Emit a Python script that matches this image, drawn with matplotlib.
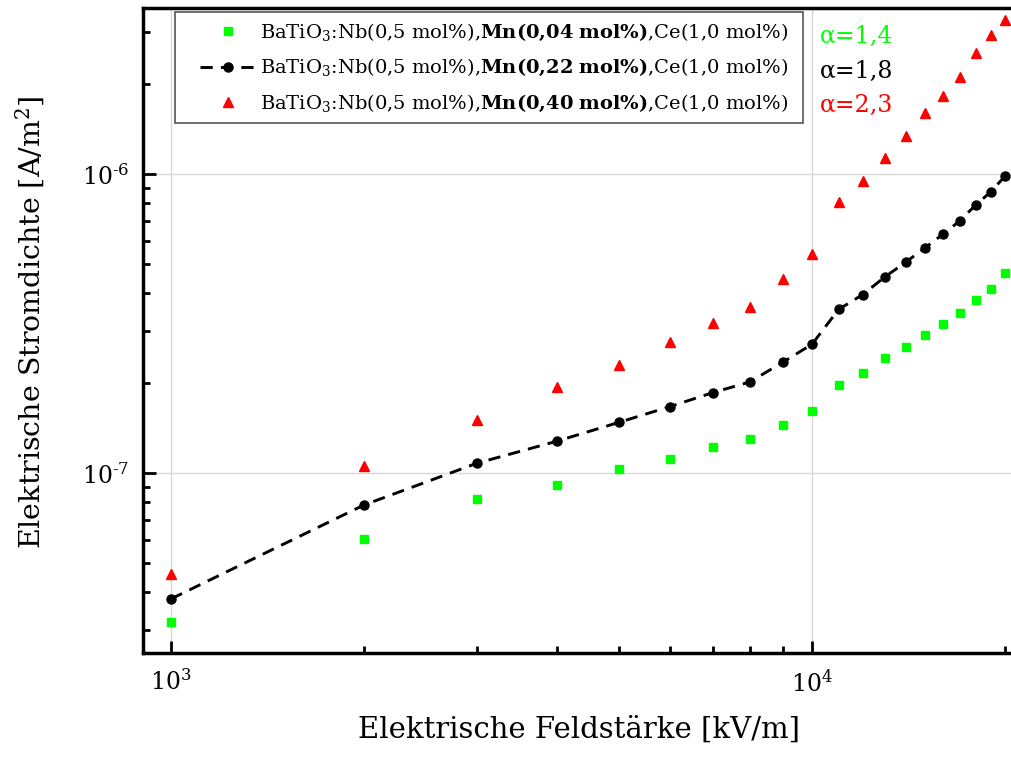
import numpy as np
import matplotlib
matplotlib.use("Agg")
import matplotlib.pyplot as plt
from matplotlib.patches import Rectangle
from matplotlib.ticker import LogLocator, FuncFormatter, NullFormatter

plt.rcParams["font.family"] = ["DejaVu Serif"]
plt.rcParams["mathtext.fontset"] = "dejavuserif"

# Electric field strength [kV/m]
field = [1000, 2000, 3000, 4000, 5000, 6000, 7000, 8000, 9000, 10000,
         11000, 12000, 13000, 14000, 15000, 16000, 17000, 18000, 19000, 20000]

# Current density [A/m^2] for the three Mn contents
j_mn004 = [3.18e-8, 6.03e-8, 8.20e-8, 9.14e-8, 1.03e-7, 1.12e-7, 1.22e-7, 1.30e-7, 1.45e-7, 1.61e-7,
           1.97e-7, 2.17e-7, 2.43e-7, 2.64e-7, 2.89e-7, 3.15e-7, 3.44e-7, 3.81e-7, 4.14e-7, 4.68e-7]
j_mn022 = [3.80e-8, 7.83e-8, 1.08e-7, 1.28e-7, 1.48e-7, 1.67e-7, 1.86e-7, 2.02e-7, 2.35e-7, 2.70e-7,
           3.53e-7, 3.96e-7, 4.54e-7, 5.08e-7, 5.67e-7, 6.30e-7, 6.98e-7, 7.89e-7, 8.73e-7, 9.85e-7]
j_mn040 = [4.60e-8, 1.06e-7, 1.51e-7, 1.94e-7, 2.30e-7, 2.74e-7, 3.19e-7, 3.61e-7, 4.47e-7, 5.41e-7,
           8.10e-7, 9.50e-7, 1.13e-6, 1.34e-6, 1.60e-6, 1.83e-6, 2.11e-6, 2.54e-6, 2.92e-6, 3.28e-6]

labels = [r"BaTiO$_3$:Nb(0,5 mol%),$\mathbf{Mn(0{,}04\ mol\%)}$,Ce(1,0 mol%)",
          r"BaTiO$_3$:Nb(0,5 mol%),$\mathbf{Mn(0{,}22\ mol\%)}$,Ce(1,0 mol%)",
          r"BaTiO$_3$:Nb(0,5 mol%),$\mathbf{Mn(0{,}40\ mol\%)}$,Ce(1,0 mol%)"]
alpha_texts = ["α=1,4", "α=1,8", "α=2,3"]

green = "#00ff00"
red = "#ff0000"

W, H = 1011, 760
fig = plt.figure(figsize=(W / 100, H / 100), dpi=100)
ax = fig.add_axes([143 / W, 1 - 653 / H, (1014 - 143) / W, (653 - 8) / H])

ax.plot(field, j_mn004, ls="none", marker="s", ms=6, color=green, mec=green, label=labels[0])
ax.plot(field, j_mn022, ls=(0, (4.2, 2.8)), lw=2.1, marker="o", ms=6.5, color="black", label=labels[1])
ax.plot(field, j_mn040, ls="none", marker="^", ms=7.5, color=red, mec=red, label=labels[2])

ax.set_xscale("log")
ax.set_yscale("log")
ax.set_xlim(904.4, 20660)
ax.set_ylim(2.505e-8, 3.598e-6)

ax.xaxis.set_major_locator(LogLocator(base=10, numticks=10))
ax.yaxis.set_major_locator(LogLocator(base=10, numticks=10))
ax.xaxis.set_minor_locator(LogLocator(base=10, subs=np.arange(2, 10), numticks=20))
ax.yaxis.set_minor_locator(LogLocator(base=10, subs=np.arange(2, 10), numticks=20))


def decade_label(v, pos):
    e = int(round(np.log10(v)))
    sign = "\u2010" if e < 0 else ""
    return r"$10^{%s%d}$" % (sign, abs(e))


fmt = FuncFormatter(decade_label)
ax.xaxis.set_major_formatter(fmt)
ax.yaxis.set_major_formatter(fmt)
ax.xaxis.set_minor_formatter(NullFormatter())
ax.yaxis.set_minor_formatter(NullFormatter())

ax.tick_params(which="both", direction="in", top=False, right=False, width=2)
ax.tick_params(which="major", length=9, labelsize=17)
ax.tick_params(axis="x", which="major", pad=12)
ax.tick_params(axis="y", which="major", pad=10)
ax.tick_params(which="minor", length=5)
for side in ["left", "bottom", "top"]:
    ax.spines[side].set_linewidth(2.5)
ax.spines["right"].set_visible(False)

ax.grid(True, which="major", color="#d8d8d8", lw=1)
ax.set_axisbelow(True)

ax.set_xlabel("Elektrische Feldstärke [kV/m]", fontsize=21, labelpad=14)
ax.set_ylabel("Elektrische Stromdichte [A/m$^2$]", fontsize=20.5)
ax.yaxis.set_label_coords(-0.110, 0.513)

# Legend entries without a frame, boxed by a separate rectangle
leg = ax.legend(loc="upper left", bbox_to_anchor=(200 / W, 1 - 22 / H),
                bbox_transform=fig.transFigure, borderaxespad=0, borderpad=0,
                fontsize=14, frameon=False,
                handlelength=2.9, handletextpad=0.2, labelspacing=0.74)
fig.add_artist(Rectangle((175 / W, 1 - 123 / H), (803 - 175) / W, (123 - 12) / H,
                         transform=fig.transFigure, fill=False,
                         edgecolor="#555555", lw=1.2, zorder=5))

for txt, col, yp in zip(alpha_texts, [green, "black", red], [36, 71, 105]):
    fig.text(820 / W, 1 - yp / H, txt, color=col, fontsize=17, va="center", ha="left")

fig.savefig("out.png", dpi=100)
